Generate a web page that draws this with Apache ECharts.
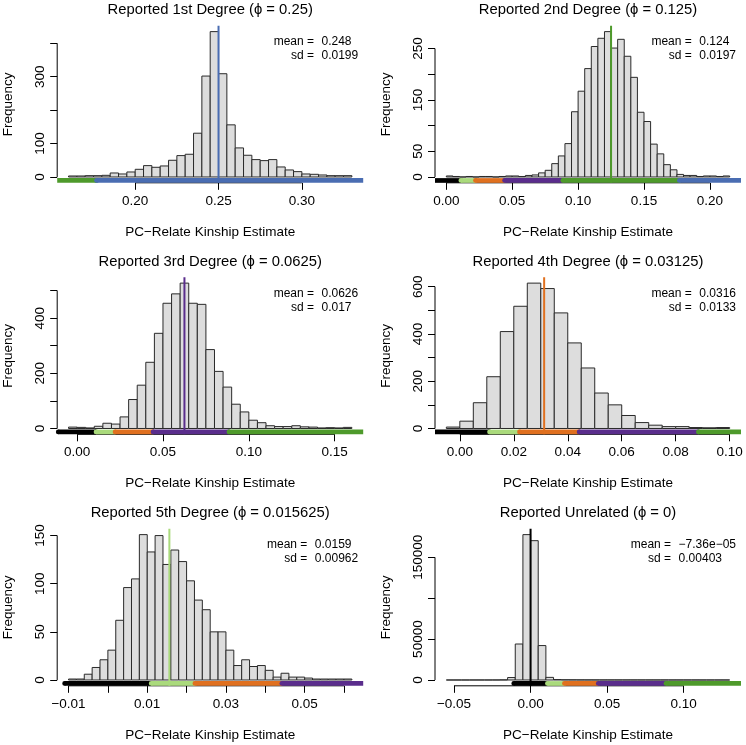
<!DOCTYPE html>
<html><head><meta charset="utf-8">
<script src="https://cdn.jsdelivr.net/npm/echarts@6/dist/echarts.min.js"></script>
<style>html,body{margin:0;padding:0;background:#fff}#c{width:746px;height:745px}</style>
</head><body><div id="c"></div>
<script>
// ---------------- data ----------------
const titles = ['Reported 1st Degree (ϕ = 0.25)', 'Reported 2nd Degree (ϕ = 0.125)',
  'Reported 3rd Degree (ϕ = 0.0625)', 'Reported 4th Degree (ϕ = 0.03125)',
  'Reported 5th Degree (ϕ = 0.015625)', 'Reported Unrelated (ϕ = 0)'];
const phiValues = [0.25, 0.125, 0.0625, 0.03125, 0.015625, 0];
const meanTexts = ['0.248', '0.124', '0.0626', '0.0316', '0.0159', '−7.36e−05'];
const sdTexts = ['0.0199', '0.0197', '0.017', '0.0133', '0.00962', '0.00403'];
const binStarts = [0.16, 0, -0.005, -0.005, -0.010, -0.055];
const binWidths = [0.005, 0.005, 0.005, 0.005, 0.002, 0.005];
const p1Counts = [3,3,4,4,5,12,9,15,23,34,29,33,50,64,68,131,302,435,309,156,87,65,52,49,52,30,21,16,9,8,6,4,4,4];
const p2Counts = [2,1,0,1,0,1,1,0,1,2,2,1,3,4,8,13,26,41,65,127,167,211,254,270,283,251,268,235,194,126,108,64,45,24,14,5,3,3,1,2,2,1,2];
const p3Counts = [5,4,2,8,19,16,42,105,157,240,345,454,488,527,454,450,286,207,150,88,60,30,21,10,7,7,10,6,5,2,3,2,4];
const p4Counts = [6,31,109,219,410,517,615,592,489,362,256,150,100,55,25,14,8,8,4,3,4];
const p5Counts = [1,1,6,13,21,31,62,96,105,151,133,150,120,135,123,103,83,73,50,50,31,15,21,14,15,10,3,7,3,3,2,1,1,1,1,1];
const p6Counts = [1,0,1,2,3,10,30,150,3000,44000,177800,170400,42100,3200,500,250,200,150,120,100,90,80,70,65,60,50,45,40,40,35,30,30,25,20,15,10,5];
const allCounts = [p1Counts, p2Counts, p3Counts, p4Counts, p5Counts, p6Counts];

const xTickValues = [[0.20,0.25,0.30],[0,0.05,0.10,0.15,0.20],[0,0.05,0.10,0.15],
  [0,0.02,0.04,0.06,0.08,0.10],[-0.01,0,0.01,0.02,0.03,0.04,0.05,0.06],[-0.05,0,0.05,0.10]];
const xTickLabels = [['0.20','0.25','0.30'],['0.00','0.05','0.10','0.15','0.20'],['0.00','0.05','0.10','0.15'],
  ['0.00','0.02','0.04','0.06','0.08','0.10'],['−0.01','','0.01','','0.03','','0.05',''],['−0.05','0.00','0.05','0.10']];
const yTickValues = [[0,100,200,300,400],[0,50,100,150,200,250],[0,100,200,300,400,500],
  [0,100,200,300,400,500,600],[0,50,100,150],[0,50000,100000,150000]];
const yTickLabels = [['0','100','','300',''],['0','50','','150','','250'],['0','','200','','400',''],
  ['0','','200','','400','','600'],['0','50','100','150'],['0','50000','','150000']];

// kinship degree thresholds and their colours
const segBounds = [-0.011, 0.011, 0.0221, 0.0442, 0.0884, 0.1768, 0.3536];
const segColors = ['#000000', '#aada7c', '#e0701f', '#5a2d8c', '#4e9a2b', '#4a6db2'];
const phiColors = ['#4a6db2', '#4e9a2b', '#5a2d8c', '#e0701f', '#aada7c', '#000000'];

// ---------------- layout ----------------
const FONT = '"Liberation Sans", Arial, Helvetica, sans-serif';
const colLeft = [57.2, 435];
const rowTop = [25.8, 277.3, 528.8];
const plotW = 306, plotH = 157;

const measureCtx = document.createElement('canvas').getContext('2d');
function textW(t, size) { measureCtx.font = size + 'px ' + FONT; return measureCtx.measureText(t).width; }

const grids = [], xAxes = [], yAxes = [], series = [], graphics = [];

for (let i = 0; i < 6; i++) {
  const left = colLeft[i % 2], top = rowTop[Math.floor(i / 2)];
  const counts = allCounts[i], start = binStarts[i], w = binWidths[i];
  const xlo = start, xhi = start + counts.length * w;
  const xpad = 0.04 * (xhi - xlo);
  const xmin = xlo - xpad, xmax = xhi + xpad;
  const ymaxData = Math.max(...counts);
  const ymin = -0.04 * ymaxData, ymax = 1.04 * ymaxData;
  grids.push({left: left, top: top, width: plotW, height: plotH});

  const xt = xTickValues[i], xl = xTickLabels[i];
  const yt = yTickValues[i], yl = yTickLabels[i];
  const lookup = (ticks, labels) => v => { const k = ticks.findIndex(t => Math.abs(t - v) < 1e-9); return k >= 0 ? labels[k] : ''; };

  xAxes.push({
    type: 'value', gridIndex: i, min: xmin, max: xmax,
    axisLine: {show: false, onZero: false}, splitLine: {show: false},
    axisTick: {show: true, inside: false, length: 7, customValues: xt, lineStyle: {color: '#000', width: 1}},
    axisLabel: {show: true, customValues: xt.filter((v, k) => xl[k] !== ''), formatter: lookup(xt, xl),
      margin: 11, color: '#000', fontSize: 13.5, fontFamily: FONT},
    name: 'PC−Relate Kinship Estimate', nameLocation: 'middle', nameGap: 42,
    nameTextStyle: {color: '#000', fontSize: 13.5, fontFamily: FONT}
  });
  yAxes.push({
    type: 'value', gridIndex: i, min: ymin, max: ymax,
    axisLine: {show: false, onZero: false}, splitLine: {show: false},
    axisTick: {show: true, inside: false, length: 7, customValues: yt, lineStyle: {color: '#000', width: 1}},
    axisLabel: {show: true, customValues: yt.filter((v, k) => yl[k] !== ''), formatter: lookup(yt, yl),
      rotate: 90, margin: 10, color: '#000', fontSize: 13.5, fontFamily: FONT},
    name: 'Frequency', nameLocation: 'middle', nameGap: 42, nameRotate: 90,
    nameTextStyle: {color: '#000', fontSize: 13.5, fontFamily: FONT}
  });

  // histogram bars
  series.push({
    type: 'custom', xAxisIndex: i, yAxisIndex: i, silent: true, animation: false, z: 2,
    data: counts.map((c, k) => [start + k * w, start + (k + 1) * w, c]),
    encode: {x: [0, 1], y: 2},
    renderItem: (params, api) => {
      const p0 = api.coord([api.value(0), 0]);
      const p1 = api.coord([api.value(1), api.value(2)]);
      return {type: 'rect', shape: {x: p0[0], y: p1[1], width: p1[0] - p0[0], height: p0[1] - p1[1]},
        style: {fill: '#dddddd', stroke: '#2a2a2a', lineWidth: 1}};
    }
  });
  // R-style axis lines spanning first..last tick
  series.push({type: 'line', xAxisIndex: i, yAxisIndex: i, silent: true, animation: false, clip: false, z: 2,
    symbol: 'none', lineStyle: {color: '#000', width: 1},
    data: [[xmin, yt[0]], [xmin, yt[yt.length - 1]]]});
  series.push({type: 'line', xAxisIndex: i, yAxisIndex: i, silent: true, animation: false, clip: false, z: 2,
    symbol: 'none', lineStyle: {color: '#000', width: 1},
    data: [[xt[0], ymin], [xt[xt.length - 1], ymin]]});
  // coloured degree bands (round ends, clipped square at the plot edges)
  const ySeg = 0.6 * ymin;
  series.push({
    type: 'custom', xAxisIndex: i, yAxisIndex: i, silent: true, animation: false, z: 3,
    data: segColors.map((c, k) => [segBounds[k], segBounds[k + 1], k]),
    encode: {x: [0, 1]},
    renderItem: (params, api) => {
      const a = api.value(0), b = api.value(1);
      const lo = Math.max(a, xmin), hi = Math.min(b, xmax);
      if (hi <= lo) return;
      const lw = 4.7, col = segColors[api.value(2)];
      const pa = api.coord([lo, ySeg]), pb = api.coord([hi, ySeg]);
      const children = [{type: 'line', shape: {x1: pa[0], y1: pa[1], x2: pb[0], y2: pa[1]},
        style: {stroke: col, lineWidth: lw, lineCap: 'butt'}}];
      if (a >= xmin) children.push({type: 'circle', shape: {cx: pa[0], cy: pa[1], r: lw / 2}, style: {fill: col}});
      if (b <= xmax) children.push({type: 'circle', shape: {cx: pb[0], cy: pb[1], r: lw / 2}, style: {fill: col}});
      return {type: 'group', children: children};
    }
  });
  // expected kinship line
  series.push({type: 'line', xAxisIndex: i, yAxisIndex: i, silent: true, animation: false, clip: false, z: 4,
    symbol: 'none', lineStyle: {color: phiColors[i], width: 2},
    data: [[phiValues[i], ymin], [phiValues[i], ymax]]});

  // title
  graphics.push({type: 'text', x: left + plotW / 2, y: top - 15.5, silent: true,
    style: {text: titles[i], fill: '#000', font: '14.8px ' + FONT, align: 'center', verticalAlign: 'middle',
      textAlign: 'center', textVerticalAlign: 'middle'}});
  // mean / sd annotation
  const vw = Math.max(textW(meanTexts[i], 12), textW(sdTexts[i], 12));
  const valLeft = left + plotW - 5 - vw;
  const eqRight = valLeft - 7.5;
  [['mean =', meanTexts[i], 16], ['sd =', sdTexts[i], 30]].forEach(([lab, val, dy]) => {
    graphics.push({type: 'text', x: eqRight, y: top + dy, silent: true,
      style: {text: lab, fill: '#000', font: '12px ' + FONT, align: 'right', verticalAlign: 'middle',
        textAlign: 'right', textVerticalAlign: 'middle'}});
    graphics.push({type: 'text', x: valLeft, y: top + dy, silent: true,
      style: {text: val, fill: '#000', font: '12px ' + FONT, align: 'left', verticalAlign: 'middle',
        textAlign: 'left', textVerticalAlign: 'middle'}});
  });
}

const chart = echarts.init(document.getElementById('c'), null, {renderer: 'canvas'});
chart.setOption({
  backgroundColor: '#ffffff', animation: false,
  grid: grids, xAxis: xAxes, yAxis: yAxes, series: series, graphic: graphics
});
</script></body></html>
